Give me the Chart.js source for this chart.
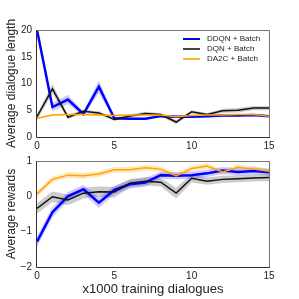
<!DOCTYPE html>
<html><head><meta charset="utf-8">
<script src="https://cdn.jsdelivr.net/npm/chart.js@4/dist/chart.umd.min.js"></script>
<style>
body{margin:0;background:#fff;width:299px;height:299px;overflow:hidden;position:relative}
#c1{position:absolute;left:0;top:0}
#c2{position:absolute;left:0;top:150px}
</style></head><body>
<canvas id="c1" width="299" height="150"></canvas>
<canvas id="c2" width="299" height="149"></canvas>
<script>
const steps = [0,1,2,3,4,5,6,7,8,9,10,11,12,13,14,15];
const seriesNames = ['DDQN + Batch', 'DQN + Batch', 'DA2C + Batch'];
const xTicks = [0, 5, 10, 15];
const lenTicks = [0, 5, 10, 15, 20];
const rewTicks = [-2, -1, 0, 1];

const ddqnLen    = [20, 5.6, 7.0, 4.3, 9.4, 3.5, 3.4, 3.4, 3.9, 3.8, 3.8, 3.9, 4.0, 4.0, 4.1, 3.9];
const ddqnLenErr = [0.3, 0.8, 0.9, 0.4, 1.2, 0.3, 0.2, 0.2, 0.2, 0.2, 0.2, 0.2, 0.2, 0.2, 0.2, 0.2];
const dqnLen     = [3.8, 9.0, 3.7, 4.8, 4.5, 3.3, 3.9, 4.4, 4.2, 2.8, 4.7, 4.2, 4.9, 5.0, 5.4, 5.4];
const dqnLenErr  = [0.6, 0.9, 0.4, 0.3, 0.3, 0.3, 0.3, 0.3, 0.3, 0.4, 0.3, 0.3, 0.4, 0.4, 0.4, 0.4];
const da2cLen    = [3.5, 4.1, 4.2, 4.2, 4.1, 4.0, 4.1, 4.1, 4.1, 3.8, 4.0, 4.1, 4.1, 4.2, 4.2, 3.9];
const da2cLenErr = [0.2, 0.2, 0.2, 0.2, 0.2, 0.2, 0.2, 0.2, 0.2, 0.2, 0.2, 0.2, 0.2, 0.2, 0.2, 0.2];

const ddqnRew    = [-1.28, -0.45, 0.0, 0.2, -0.18, 0.18, 0.34, 0.39, 0.6, 0.58, 0.6, 0.65, 0.73, 0.69, 0.72, 0.68];
const ddqnRewErr = [0.15, 0.15, 0.12, 0.12, 0.15, 0.12, 0.12, 0.12, 0.1, 0.1, 0.1, 0.1, 0.1, 0.1, 0.1, 0.1];
const dqnRew     = [-0.34, -0.01, -0.1, 0.09, 0.13, 0.12, 0.37, 0.43, 0.4, 0.09, 0.51, 0.43, 0.48, 0.5, 0.52, 0.53];
const dqnRewErr  = [0.15, 0.15, 0.15, 0.15, 0.15, 0.15, 0.12, 0.12, 0.12, 0.15, 0.12, 0.1, 0.1, 0.1, 0.1, 0.1];
const da2cRew    = [0.07, 0.48, 0.6, 0.58, 0.63, 0.75, 0.75, 0.81, 0.77, 0.58, 0.79, 0.86, 0.69, 0.82, 0.77, 0.71];
const da2cRewErr = [0.08, 0.08, 0.08, 0.08, 0.08, 0.08, 0.08, 0.08, 0.08, 0.08, 0.08, 0.08, 0.08, 0.08, 0.08, 0.08];

const FONT = '"Liberation Sans", Arial, sans-serif';
const colors = ['#0000ff', '#111111', '#ffa500'];
const bandColors = ['rgba(0,0,255,0.2)', 'rgba(0,0,0,0.2)', 'rgba(255,165,0,0.25)'];
const widths = [2.5, 1.5, 1.5];

function pts(ys, errs, sign) {
  return steps.map((x, i) => ({x: x, y: ys[i] + sign * (errs ? errs[i] : 0)}));
}
function buildDatasets(means, errs) {
  const ds = [];
  means.forEach((m, k) => {
    ds.push({label: '_lo' + k, data: pts(m, errs[k], -1), borderWidth: 0, pointRadius: 0, fill: false, order: 2});
    ds.push({label: '_hi' + k, data: pts(m, errs[k], 1), borderWidth: 0, pointRadius: 0, fill: '-1', backgroundColor: bandColors[k], order: 2});
  });
  means.forEach((m, k) => {
    ds.push({label: seriesNames[k], data: pts(m, null, 0), borderColor: colors[k], borderWidth: widths[k], pointRadius: 0, fill: false, tension: 0, order: 1 - k * 0.1});
  });
  return ds;
}

const framePlugin = {
  id: 'frame',
  afterDraw(chart) {
    const a = chart.chartArea, c = chart.ctx;
    c.save();
    c.lineWidth = 1;
    c.strokeStyle = '#777';
    c.beginPath();
    c.moveTo(a.left, a.top + 0.5); c.lineTo(a.right + 0.5, a.top + 0.5); c.lineTo(a.right + 0.5, a.bottom);
    c.stroke();
    c.strokeStyle = '#333';
    c.beginPath();
    c.moveTo(a.left - 0.5, a.top); c.lineTo(a.left - 0.5, a.bottom + 0.5); c.lineTo(a.right + 1, a.bottom + 0.5);
    c.stroke();
    c.restore();
  }
};

const legendPlugin = {
  id: 'innerLegend',
  afterDraw(chart) {
    if (!chart.options.plugins.innerLegend || !chart.options.plugins.innerLegend.show) return;
    const c = chart.ctx;
    c.save();
    c.font = '8px ' + FONT;
    c.textBaseline = 'middle';
    c.fillStyle = '#222';
    const lines = chart.data.datasets.filter(d => !d.label.startsWith('_'));
    lines.forEach((d, i) => {
      const y = 39 + i * 10;
      c.strokeStyle = i === 1 ? '#444' : (i === 2 ? '#ffb733' : d.borderColor);
      c.lineWidth = 2;
      c.beginPath(); c.moveTo(183, y); c.lineTo(200, y); c.stroke();
      c.fillText(d.label, 207, y);
    });
    c.restore();
  }
};

function makeOptions(yMin, yMax, yStep, yTitle, xTitle, pad, xHeight, showLegend) {
  return {
    responsive: false, animation: false,
    layout: {padding: pad},
    plugins: {legend: {display: false}, tooltip: {enabled: false}, innerLegend: {show: showLegend}},
    scales: {
      x: {
        type: 'linear', min: 0, max: 15,
        grid: {display: false, drawTicks: false}, border: {display: false},
        afterBuildTicks: s => { s.ticks = xTicks.map(v => ({value: v})); },
        ticks: {padding: 3, color: '#222', font: {family: FONT, size: 10}},
        title: {display: !!xTitle, text: xTitle, color: '#222', font: {family: FONT, size: 13}, padding: {top: 0, bottom: 2}},
        afterFit: s => { s.height = xHeight; }
      },
      y: {
        min: yMin, max: yMax,
        grid: {display: false, drawTicks: false}, border: {display: false},
        afterBuildTicks: s => { s.ticks = (yMin === 0 ? lenTicks : rewTicks).map(v => ({value: v})); },
        ticks: {padding: 5, color: '#222', font: {family: FONT, size: 10},
          callback: v => (v < 0 ? '\u2212' + Math.abs(v) : String(v))},
        title: {display: true, text: yTitle, color: '#222', font: {family: FONT, size: 12}, padding: {top: 4, bottom: 0}},
        afterFit: s => { s.width = 37; }
      }
    }
  };
}

new Chart(document.getElementById('c1'), {
  type: 'line',
  data: {datasets: buildDatasets([ddqnLen, dqnLen, da2cLen], [ddqnLenErr, dqnLenErr, da2cLenErr])},
  options: makeOptions(0, 20, 5, 'Average dialogue length', '', {left: 0, right: 30, top: 30, bottom: 0}, 13, true),
  plugins: [framePlugin, legendPlugin]
});

new Chart(document.getElementById('c2'), {
  type: 'line',
  data: {datasets: buildDatasets([ddqnRew, dqnRew, da2cRew], [ddqnRewErr, dqnRewErr, da2cRewErr])},
  options: makeOptions(-2, 1, 1, 'Average rewards', 'x1000 training dialogues', {left: 0, right: 30, top: 11, bottom: 0}, 32, false),
  plugins: [framePlugin, legendPlugin]
});
</script>
</body></html>
